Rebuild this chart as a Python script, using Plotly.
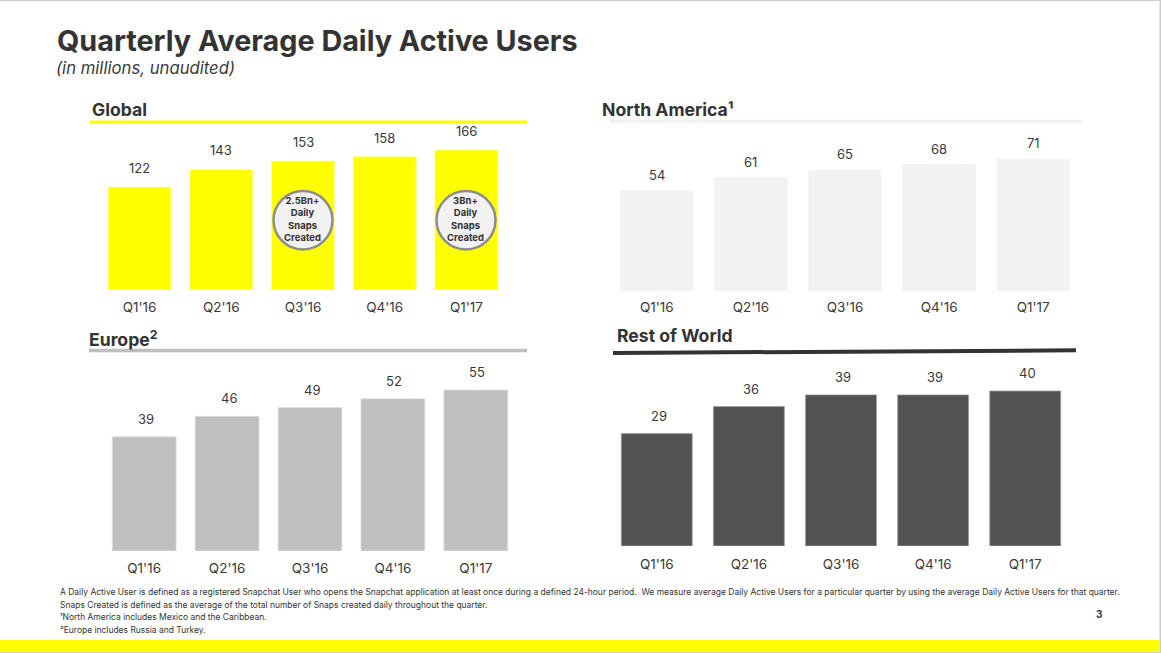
import plotly.graph_objects as go

W, H = 1161, 653
FONT = "Inter"
DARK = "#333333"
YELLOW = "#FFFF00"

quarters = ["Q1'16", "Q2'16", "Q3'16", "Q4'16", "Q1'17"]
global_dau = [122, 143, 153, 158, 166]
north_america_dau = [54, 61, 65, 68, 71]
europe_dau = [39, 46, 49, 52, 55]
rest_of_world_dau = [29, 36, 39, 39, 40]

title = "<b>Quarterly Average Daily Active Users</b>"
subtitle = "<i>(in millions, unaudited)</i>"
footnotes = [
    "A Daily Active User is defined as a registered Snapchat User who opens the Snapchat application at least once during a defined 24-hour period.  We measure average Daily Active Users for a particular quarter by using the average Daily Active Users for that quarter.",
    "Snaps Created is defined as the average of the total number of Snaps created daily throughout the quarter.",
    "¹North America includes Mexico and the Caribbean.",
    "²Europe includes Russia and Turkey.",
]


def px(x):
    return x / W


def py(y):
    return 1 - y / H


# name, values, colour, edge colour, header x, header y, rule x0, x1, rule y0, y1, rule width,
# plot left, right (px), baseline, top of tallest bar (px), label shift up, label shift right, tick standoff
panels = [
    ("Global", global_dau, YELLOW, "#FFFF99", 90, 109, 90, 527, 122, 122, 3, 98.7, 507.3, 290, 150, 19, 0, 7),
    ("North America¹", north_america_dau, "#F2F2F2", "#F2F2F2", 600, 110, 610, 1082, 121.5, 121.5, 3.5, 609.7, 1080.3, 291, 159, 16, 0, 6),
    ("Europe<sup>2</sup>", europe_dau, "#BFBFBF", "#E0E0E0", 87, 338, 89, 527, 350.5, 350.5, 3.5, 102.7, 517.3, 551, 390, 18, 1.5, 7),
    ("Rest of World", rest_of_world_dau, "#525252", "#A0A0A0", 615, 335, 613, 1076, 353, 350.3, 4, 610.7, 1071.3, 546, 391, 18, 2, 8),
]

fig = go.Figure()
annotations = []
shapes = []

for i, (name, vals, color, edge, hx, hy, rx0, rx1, ry0, ry1, rw, left, right, base, top, shift, xoff, standoff) in enumerate(panels, start=1):
    suffix = "" if i == 1 else str(i)
    per_value = (base - top) / max(vals)
    plot_top = base - 170
    fig.add_trace(go.Bar(
        x=quarters, y=vals, xaxis=f"x{suffix}", yaxis=f"y{suffix}",
        marker=dict(color=color, line=dict(color=edge, width=0.8)), width=0.77, showlegend=False,
    ))
    fig.update_layout({
        f"xaxis{suffix}": dict(
            domain=[px(left), px(right)], anchor=f"y{suffix}", type="category",
            range=[-0.5, 4.5], showgrid=False, zeroline=False, showline=False, ticks="",
            tickfont=dict(family=FONT, size=13.5, color="#3A3A3A"), ticklabelstandoff=standoff,
        ),
        f"yaxis{suffix}": dict(
            domain=[py(base), py(plot_top)], anchor=f"x{suffix}",
            range=[0, 170 / per_value], visible=False,
        ),
    })
    for q, v in zip(quarters, vals):
        annotations.append(dict(
            x=q, y=v, xref=f"x{suffix}", yref=f"y{suffix}", yshift=shift, xshift=xoff,
            text=str(v), showarrow=False, font=dict(family=FONT, size=13, color="#3A3A3A"),
        ))
    annotations.append(dict(
        x=px(hx), y=py(hy), xref="paper", yref="paper", xanchor="left", yanchor="middle",
        text=f"<b>{name}</b>", showarrow=False, font=dict(family=FONT, size=17.6, color=DARK),
    ))
    shapes.append(dict(
        type="line", xref="paper", yref="paper", x0=px(rx0), x1=px(rx1),
        y0=py(ry0), y1=py(ry1), line=dict(color=color if i != 4 else DARK, width=rw),
    ))

# snaps created callouts
callouts = [("2.5Bn+", 303), ("3Bn+", 466)]
for label, cx in callouts:
    shapes.append(dict(
        type="circle", xref="paper", yref="paper",
        x0=px(cx - 29.5), x1=px(cx + 29.5), y0=py(249.5), y1=py(191),
        fillcolor="#F2F2F2", line=dict(color="#8C8C8C", width=2.5),
    ))
    annotations.append(dict(
        x=px(cx - 1), y=py(219), xref="paper", yref="paper", xanchor="center", yanchor="middle",
        text=f"<b>{label}<br>Daily<br>Snaps<br>Created</b>", showarrow=False,
        font=dict(family=FONT, size=9.5, color=DARK), align="center",
    ))

annotations.append(dict(
    x=px(55), y=py(41), xref="paper", yref="paper", xanchor="left", yanchor="middle",
    text=title, showarrow=False, font=dict(family=FONT, size=28.75, color=DARK),
))
annotations.append(dict(
    x=px(54), y=py(68), xref="paper", yref="paper", xanchor="left", yanchor="middle",
    text=subtitle, showarrow=False, font=dict(family=FONT, size=16.7, color="#3A3A3A"),
))
for line, y in zip(footnotes, [592, 605, 617, 630]):
    annotations.append(dict(
        x=px(58), y=py(y), xref="paper", yref="paper", xanchor="left", yanchor="middle",
        text=line, showarrow=False, font=dict(family=FONT, size=8.47, color=DARK),
    ))
annotations.append(dict(
    x=px(1099), y=py(614), xref="paper", yref="paper", xanchor="center", yanchor="middle",
    text="<b>3</b>", showarrow=False, font=dict(family=FONT, size=10, color=DARK),
))

# footer band and slide edge hairlines
shapes.append(dict(type="rect", xref="paper", yref="paper", x0=0, x1=px(1159), y0=py(652), y1=py(640),
                   fillcolor=YELLOW, line=dict(width=0)))
shapes.append(dict(type="rect", xref="paper", yref="paper", x0=0, x1=1, y0=py(1), y1=1,
                   fillcolor="#CCCCCC", line=dict(width=0)))
shapes.append(dict(type="rect", xref="paper", yref="paper", x0=0, x1=1, y0=0, y1=py(652),
                   fillcolor="#CCCCCC", line=dict(width=0)))
shapes.append(dict(type="rect", xref="paper", yref="paper", x0=px(1159.5), x1=1, y0=0, y1=1,
                   fillcolor="#CCCCCC", line=dict(width=0)))

fig.update_layout(
    width=W, height=H, margin=dict(l=0, r=0, t=0, b=0),
    paper_bgcolor="white", plot_bgcolor="white",
    annotations=annotations, shapes=shapes,
)

fig.write_html("out.html", config={"displayModeBar": False},
               post_script="document.body.style.margin='0';")
